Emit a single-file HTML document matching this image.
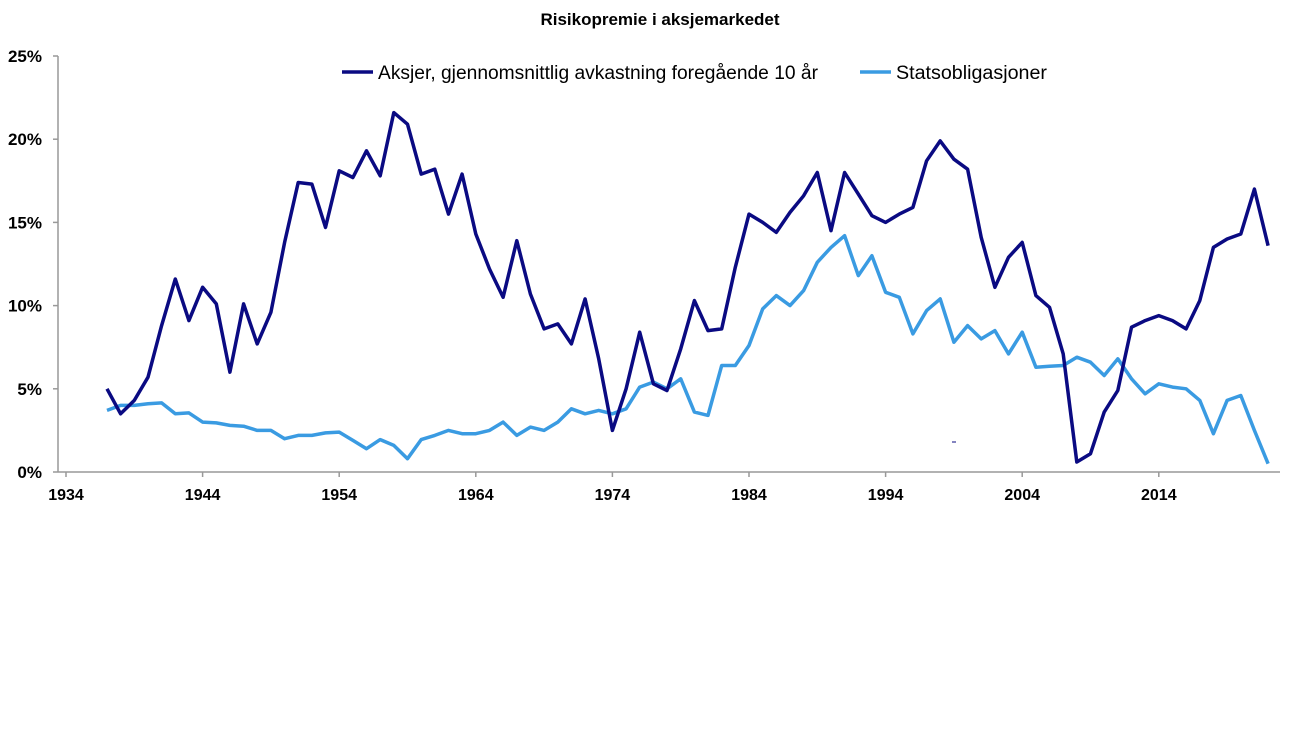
<!DOCTYPE html>
<html><head><meta charset="utf-8"><style>
body{margin:0;background:#fff;font-family:"Liberation Sans",Arial,sans-serif}
</style></head><body>
<svg id="chart" width="1300" height="731" xmlns="http://www.w3.org/2000/svg" font-family="Liberation Sans, Arial, sans-serif">
<text x="660" y="25" text-anchor="middle" font-size="17" font-weight="bold">Risikopremie i aksjemarkedet</text>
<g id="axes"></g>
<g>
<line x1="342" y1="72" x2="373" y2="72" stroke="#0a0a82" stroke-width="3.5"/>
<text x="378" y="79" font-size="19" textLength="440" lengthAdjust="spacingAndGlyphs">Aksjer, gjennomsnittlig avkastning foregående 10 år</text>
<line x1="860" y1="72" x2="891" y2="72" stroke="#3a9be2" stroke-width="3.5"/>
<text x="896" y="79" font-size="19" textLength="151" lengthAdjust="spacingAndGlyphs">Statsobligasjoner</text>
</g>
<line x1="952" y1="442" x2="956" y2="442" stroke="#0a0a82" stroke-width="1"/>
<g id="series"></g>
</svg>
<script>
const startYear = 1937;
const xTicks = [1934,1944,1954,1964,1974,1984,1994,2004,2014];
const yTicks = [0,5,10,15,20,25];
const stocks = [5.0,3.5,4.3,5.7,8.8,11.6,9.1,11.1,10.1,6.0,10.1,7.7,9.6,13.8,17.4,17.3,14.7,18.1,17.7,19.3,17.8,21.6,20.9,17.9,18.2,15.5,17.9,14.3,12.2,10.5,13.9,10.7,8.6,8.9,7.7,10.4,6.8,2.5,5.0,8.4,5.3,4.9,7.4,10.3,8.5,8.6,12.3,15.5,15.0,14.4,15.6,16.6,18.0,14.5,18.0,16.7,15.4,15.0,15.5,15.9,18.7,19.9,18.8,18.2,14.1,11.1,12.9,13.8,10.6,9.9,7.1,0.6,1.1,3.6,4.9,8.7,9.1,9.4,9.1,8.6,10.3,13.5,14.0,14.3,17.0,13.6];
const bonds = [3.7,4.0,4.0,4.1,4.15,3.5,3.55,3.0,2.95,2.8,2.75,2.5,2.5,2.0,2.2,2.2,2.35,2.4,1.9,1.4,1.95,1.6,0.8,1.95,2.2,2.5,2.3,2.3,2.5,3.0,2.2,2.7,2.5,3.0,3.8,3.5,3.7,3.5,3.8,5.1,5.4,5.0,5.6,3.6,3.4,6.4,6.4,7.6,9.8,10.6,10.0,10.9,12.6,13.5,14.2,11.8,13.0,10.8,10.5,8.3,9.7,10.4,7.8,8.8,8.0,8.5,7.1,8.4,6.3,6.35,6.4,6.9,6.6,5.8,6.8,5.6,4.7,5.3,5.1,5.0,4.3,2.3,4.3,4.6,2.5,0.5];
const NS="http://www.w3.org/2000/svg";
const X = y => 66 + (y-1934)*13.66;
const Y = v => 472 - v*16.64;
const axes=document.getElementById('axes');
function mk(tag,attrs,parent){const e=document.createElementNS(NS,tag);for(const k in attrs)e.setAttribute(k,attrs[k]);parent.appendChild(e);return e;}
const ya=mk('line',{x1:58,y1:56,x2:58,y2:472,stroke:'#999','stroke-width':1.5},axes);


const xa=mk('line',{x1:58,y1:472,x2:1280,y2:472,stroke:'#999','stroke-width':1.5},axes);


yTicks.forEach(v=>{
  mk('line',{x1:53,y1:Y(v),x2:58,y2:Y(v),stroke:'#999','stroke-width':1.5},axes);
  const t=mk('text',{x:42,y:Y(v)+6,'text-anchor':'end','font-size':17,'font-weight':'bold'},axes);
  t.textContent=v+'%';
  
  
});
xTicks.forEach(y=>{
  mk('line',{x1:X(y),y1:472,x2:X(y),y2:477,stroke:'#999','stroke-width':1.5},axes);
  const t=mk('text',{x:X(y),y:500,'text-anchor':'middle','font-size':16,'font-weight':'bold'},axes);
  t.textContent=y;
  
  
});
const ser=document.getElementById('series');
function line(arr,color,name){
  const pts=arr.map((v,i)=>X(startYear+i).toFixed(1)+','+Y(v).toFixed(1)).join(' ');
  const p=mk('polyline',{points:pts,fill:'none',stroke:color,'stroke-width':3.5,'stroke-linejoin':'round'},ser);
  
  
}
line(bonds,'#3a9be2','bonds-line');
line(stocks,'#0a0a82','stocks-line');
</script>
</body></html>
